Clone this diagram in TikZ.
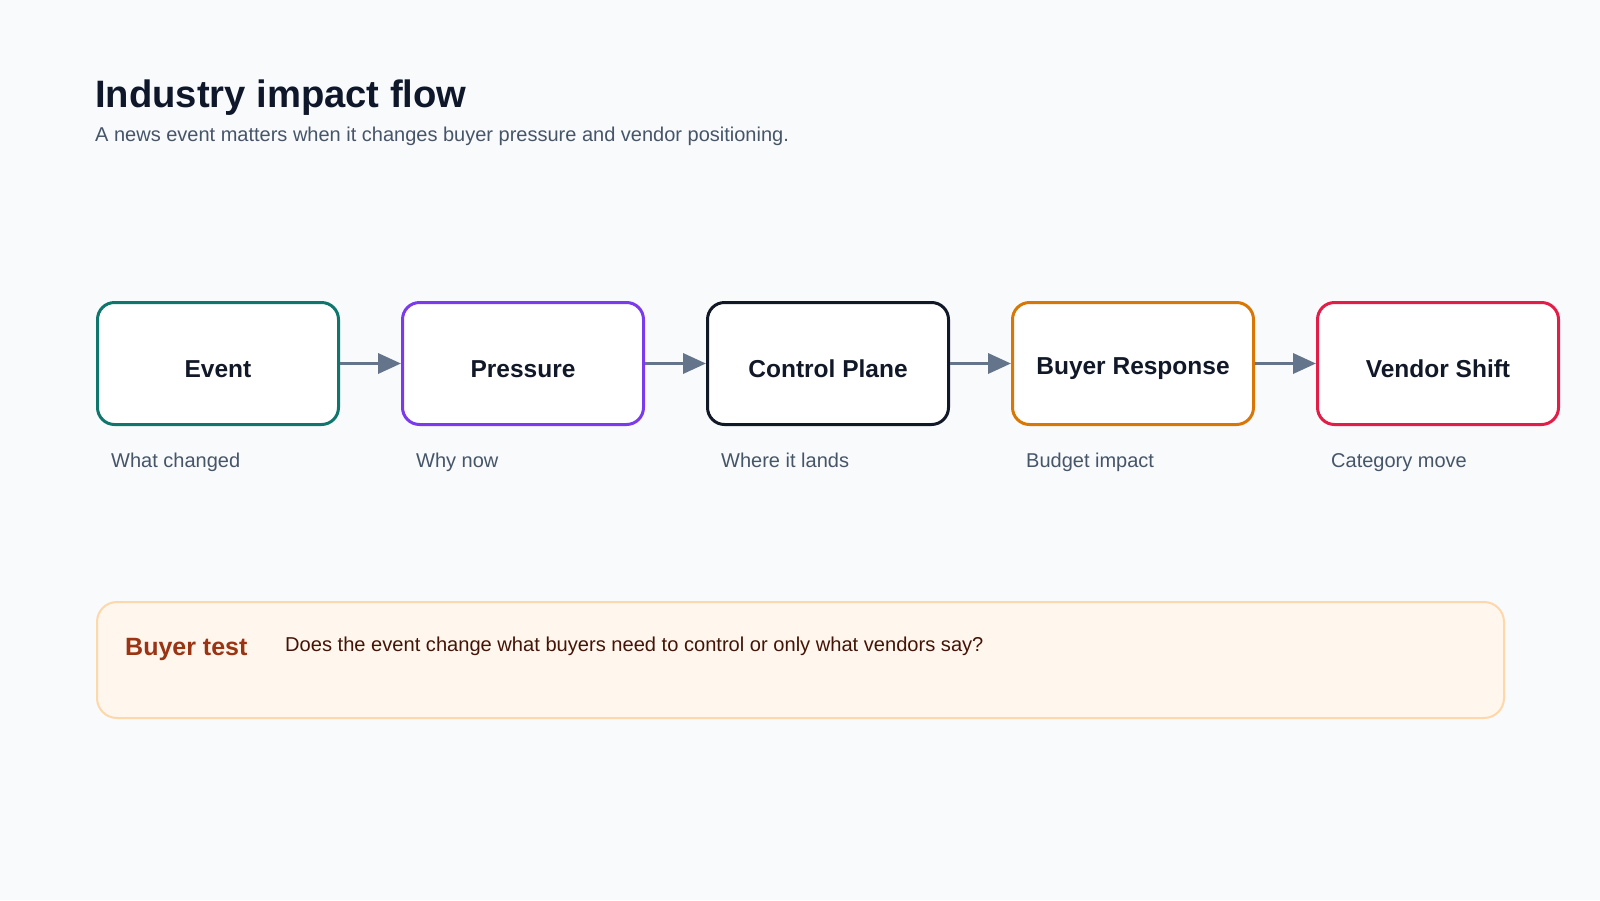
\documentclass[tikz,border=0pt]{standalone}
\usepackage{fontspec}
\setmainfont{Liberation Sans}
\usetikzlibrary{arrows.meta}
\definecolor{bg}{HTML}{F8FAFC}
\definecolor{titlec}{HTML}{0F172A}
\definecolor{subc}{HTML}{475569}
\definecolor{boxtext}{HTML}{111827}
\definecolor{cEvent}{HTML}{0F766E}
\definecolor{cPress}{HTML}{7C3AED}
\definecolor{cCtrl}{HTML}{111827}
\definecolor{cBuyer}{HTML}{D97706}
\definecolor{cVendor}{HTML}{E11D48}
\definecolor{arrc}{HTML}{64748B}
\definecolor{panelfill}{HTML}{FFF7ED}
\definecolor{panelline}{HTML}{FED7AA}
\definecolor{testc}{HTML}{9A3412}
\definecolor{qc}{HTML}{431407}
\tikzset{
  flowbox/.style={draw, line width=3pt, fill=white, rounded corners=17pt, minimum width=241pt, minimum height=122pt, inner sep=0pt},
  boxlabel/.style={anchor=base, inner sep=0pt, text=boxtext, font=\fontsize{24.5}{28}\selectfont\bfseries},
  caption/.style={anchor=base west, inner sep=0pt, text=subc, font=\fontsize{20}{24}\selectfont},
  arr/.style={draw=arrc, line width=3.5pt, -{Triangle[length=23pt,width=20pt]}, shorten >=0pt},
}
\begin{document}
\begin{tikzpicture}[x=1pt,y=-1pt]
\fill[bg] (0,0) rectangle (1600,900);
\useasboundingbox (0,0) rectangle (1600,900);
% title
\node[anchor=base west, inner sep=0pt, text=titlec, font=\fontsize{38.2}{42}\selectfont\bfseries] (title) at (95,107) {Industry impact flow};
\node[anchor=base west, inner sep=0pt, text=subc, font=\fontsize{20}{24}\selectfont] (subtitle) at (95,141) {A news event matters when it changes buyer pressure and vendor positioning.};
% boxes
\node[flowbox, draw=cEvent] (ev) at (218,363.5) {};
\node[flowbox, draw=cPress] (pr) at (523,363.5) {};
\node[flowbox, draw=cCtrl] (cp) at (828,363.5) {};
\node[flowbox, draw=cBuyer] (br) at (1133,363.5) {};
\node[flowbox, draw=cVendor] (vs) at (1438,363.5) {};
% box labels
\node[boxlabel] (evL) at (218,377) {Event};
\node[boxlabel] (prL) at (523,377) {Pressure};
\node[boxlabel] (cpL) at (828,377) {Control Plane};
\node[boxlabel] (brL) at (1133,374) {Buyer Response};
\node[boxlabel] (vsL) at (1438,377) {Vendor Shift};
% arrows
\draw[arr] (ev.east) -- (pr.west);
\draw[arr] (pr.east) -- (cp.west);
\draw[arr] (cp.east) -- (br.west);
\draw[arr] (br.east) -- (vs.west);
% captions
\node[caption] (evC) at (111,467) {What changed};
\node[caption] (prC) at (416,467) {Why now};
\node[caption] (cpC) at (721,467) {Where it lands};
\node[caption] (brC) at (1026,467) {Budget impact};
\node[caption] (vsC) at (1331,467) {Category move};
% panel
\draw[draw=panelline, fill=panelfill, line width=2pt, rounded corners=20pt] (97,602) rectangle (1504,718);
\node[anchor=base west, inner sep=0pt, text=testc, font=\fontsize{25}{28}\selectfont\bfseries] (test) at (125,655) {Buyer test};
\node[anchor=base west, inner sep=0pt, text=qc, font=\fontsize{20.1}{24}\selectfont] (question) at (285,651) {Does the event change what buyers need to control or only what vendors say?};
\end{tikzpicture}
\end{document}
